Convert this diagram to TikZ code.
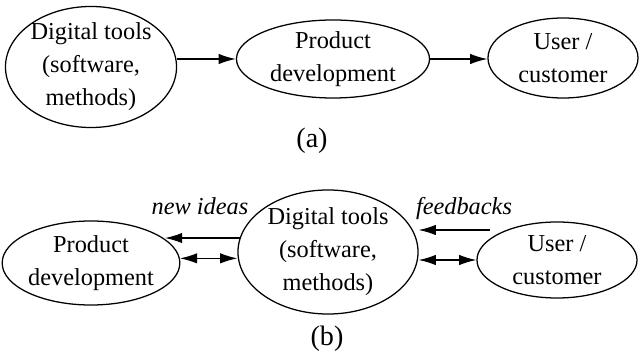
\documentclass[tikz,border=0pt]{standalone}
\usepackage{fontspec}
\setmainfont{Liberation Serif}
\usepackage{tikz}
\usetikzlibrary{calc,arrows.meta,shapes.geometric}

\tikzset{
  bubble/.style={draw, ellipse, line width=0.9pt, inner sep=0pt, inner ysep=-4pt, align=center},
  idea/.style={font=\fontsize{17.3}{23.4}\itshape\selectfont, anchor=base, inner sep=0pt},
  caption/.style={font=\fontsize{20}{24}\selectfont, inner sep=0pt},
  >={Latex[length=4.3mm,width=2.6mm]}
}

\begin{document}
\begin{tikzpicture}[x=0.025cm, y=-0.025cm, line width=0.9pt, font=\fontsize{17.3}{23.4}\selectfont]
                      \useasboundingbox (0,0) rectangle (640,354);
                      % (a)
                      \node[bubble, minimum width=4.175cm, minimum height=3.025cm] (a1) at (91,67) {Digital tools\\(software,\\methods)};
                      \node[bubble, minimum width=4.825cm, minimum height=1.95cm] (a2) at (333,59) {Product\\development};
                      \node[bubble, minimum width=3.75cm, minimum height=2cm] (a3) at (563,58) {User /\\customer};
                      \draw[->] (a1.east |- a2.west) -- (a2.west);
                      \draw[->] (a2.east) -- (a2.east -| a3.west);
                      \node[caption] (capa) at (312,141) {(a)};
                      % (b)
                      \node[bubble, minimum width=4.2cm, minimum height=2.1cm] (b1) at (91,263) {Product\\development};
                      \node[bubble, minimum width=4.5cm, minimum height=3.1cm] (b2) at (328,252) {Digital tools\\(software,\\methods)};
                      \node[bubble, minimum width=4cm, minimum height=1.9cm] (b3) at (557,260) {User /\\customer};
                      \coordinate (ni) at (165,237);
                      \coordinate (fb) at (490,230);
                      \draw[->] (b2.171) -- (b2.171 -| ni);
                      \draw[<->] (b1.3) -- (b1.3 -| b2.west);
                      \draw[->] (fb) -- (fb -| b2.east);
                      \draw[<->] (b2.east |- b3.west) -- (b3.west);
                      \node[idea] (newideas) at (200,215) {new ideas};
                      \node[idea] (feedbacks) at (464,215) {feedbacks};
                      \node[caption] (capb) at (327,339) {(b)};
                  \end{tikzpicture}
\end{document}
